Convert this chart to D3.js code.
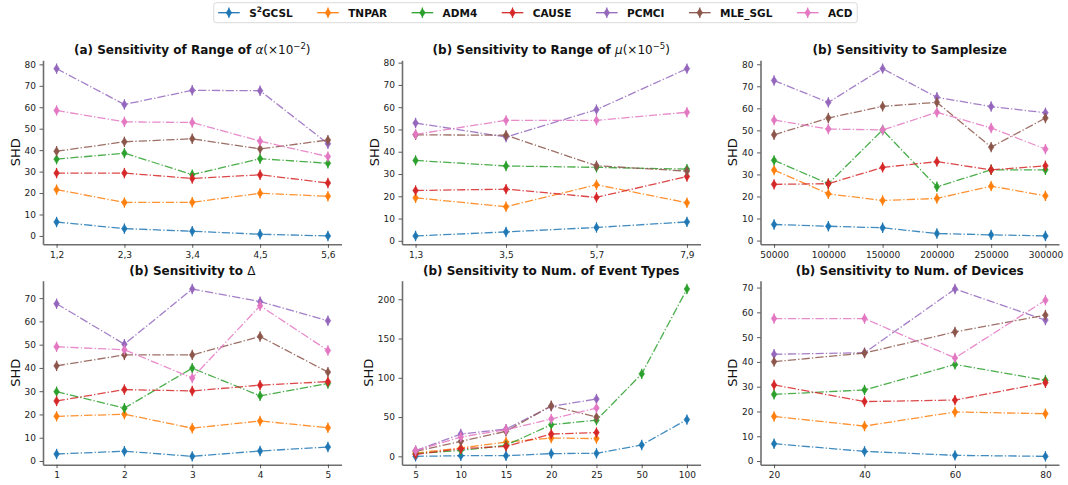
<!DOCTYPE html>
<html>
<head>
<meta charset="utf-8">
<script src="https://cdn.jsdelivr.net/npm/d3@7"></script>
<style>
body { margin: 0; background: #fff; }
svg { font-family: "DejaVu Sans", sans-serif; }
</style>
</head>
<body>
<svg width="1068" height="485"></svg>
<script>
const methods = ["S2GCSL", "TNPAR", "ADM4", "CAUSE", "PCMCI", "MLE_SGL", "ACD"];
const colors = ["#1f77b4", "#ff7f0e", "#2ca02c", "#d62728", "#9467bd", "#8c564b", "#e377c2"];

// (a) range of alpha
const alphaCats = ["1,2", "2,3", "3,4", "4,5", "5,6"];
const alphaTicks = [0, 10, 20, 30, 40, 50, 60, 70, 80];
const alphaS2GCSL = [6.5, 3.4, 2.2, 0.8, 0];
const alphaTNPAR = [21.6, 15.6, 15.7, 19.9, 18.5];
const alphaADM4 = [35.8, 38.6, 28.6, 36.0, 33.9];
const alphaCAUSE = [29.3, 29.3, 26.8, 28.5, 24.7];
const alphaPCMCI = [78.0, 61.3, 67.9, 67.7, 43.0];
const alphaMLE = [39.5, 43.9, 45.3, 40.6, 44.7];
const alphaACD = [58.5, 53.2, 52.9, 44.2, 37.0];

// (b) range of mu
const muCats = ["1,3", "3,5", "5,7", "7,9"];
const muTicks = [0, 10, 20, 30, 40, 50, 60, 70, 80];
const muS2GCSL = [2.2, 4.0, 6.0, 8.5];
const muTNPAR = [19.3, 15.3, 25.2, 17.1];
const muADM4 = [36.1, 33.6, 33.0, 32.2];
const muCAUSE = [22.6, 23.2, 19.5, 28.9];
const muPCMCI = [52.9, 46.6, 58.9, 77.3];
const muMLE = [47.6, 47.4, 33.7, 31.3];
const muACD = [47.8, 54.1, 54.1, 57.7];

// (b) sample size
const sizeCats = ["50000", "100000", "150000", "200000", "250000", "300000"];
const sizeTicks = [0, 10, 20, 30, 40, 50, 60, 70, 80];
const sizeS2GCSL = [7.3, 6.5, 5.8, 3.2, 2.6, 2.1];
const sizeTNPAR = [32.0, 21.2, 18.2, 19.1, 24.7, 20.3];
const sizeADM4 = [36.4, 25.8, 50.2, 24.4, 32.1, 32.1];
const sizeCAUSE = [25.5, 25.8, 33.2, 35.8, 32.1, 33.9];
const sizePCMCI = [72.6, 62.7, 78.0, 65.0, 60.8, 58.0];
const sizeMLE = [48.0, 55.6, 60.9, 62.7, 42.4, 55.6];
const sizeACD = [54.7, 50.6, 50.2, 58.2, 51.1, 41.5];

// (b) delta
const deltaCats = ["1", "2", "3", "4", "5"];
const deltaTicks = [0, 10, 20, 30, 40, 50, 60, 70];
const deltaS2GCSL = [3.0, 4.2, 2.0, 4.3, 6.0];
const deltaTNPAR = [19.2, 20.1, 14.1, 17.2, 14.3];
const deltaADM4 = [29.8, 22.7, 39.9, 28.0, 33.3];
const deltaCAUSE = [25.8, 30.7, 30.1, 32.6, 34.1];
const deltaPCMCI = [67.6, 50.2, 73.9, 68.5, 60.3];
const deltaMLE = [40.9, 45.6, 45.6, 53.5, 38.2];
const deltaACD = [49.1, 47.8, 35.7, 66.7, 47.5];

// (b) number of event types
const typeCats = ["5", "10", "15", "20", "25", "50", "100"];
const typeTicks = [0, 50, 100, 150, 200];
const typeS2GCSL = [0, 0.8, 0.8, 3.5, 3.8, 14.5, 46.8];
const typeTNPAR = [4.2, 10.6, 18.2, 23.3, 22.6, null, null];
const typeADM4 = [3.4, 7.6, 14.0, 40.3, 46.0, 105, 213];
const typeCAUSE = [2.5, 9.7, 12.7, 28.4, 30.3, null, null];
const typePCMCI = [7.2, 28.4, 34.7, 63.6, 73.0, null, null];
const typeMLE = [6.4, 19.0, 31.8, 64.4, 50.0, null, null];
const typeACD = [7.2, 24.6, 33.9, 47.5, 61.5, null, null];

// (b) number of devices
const devCats = ["20", "40", "60", "80"];
const devTicks = [0, 10, 20, 30, 40, 50, 60, 70];
const devS2GCSL = [7.0, 3.9, 2.3, 1.9];
const devTNPAR = [18.0, 14.1, 19.8, 19.1];
const devADM4 = [26.9, 28.7, 39.0, 32.6];
const devCAUSE = [30.7, 24.0, 24.6, 31.6];
const devPCMCI = [43.1, 43.7, 69.4, 56.9];
const devMLE = [40.1, 43.6, 52.1, 58.9];
const devACD = [57.5, 57.5, 41.6, 64.9];

const panels = [
  { title: [{t: "(a) Sensitivity of Range of ", b: true}, {t: "α", i: true}, {t: "(×10"}, {t: "−2", sup: true}, {t: ")"}],
    cats: alphaCats, ticks: alphaTicks,
    series: [alphaS2GCSL, alphaTNPAR, alphaADM4, alphaCAUSE, alphaPCMCI, alphaMLE, alphaACD] },
  { title: [{t: "(b) Sensitivity to Range of ", b: true}, {t: "μ", i: true}, {t: "(×10"}, {t: "−5", sup: true}, {t: ")"}],
    cats: muCats, ticks: muTicks,
    series: [muS2GCSL, muTNPAR, muADM4, muCAUSE, muPCMCI, muMLE, muACD] },
  { title: [{t: "(b) Sensitivity to Samplesize", b: true}],
    cats: sizeCats, ticks: sizeTicks,
    series: [sizeS2GCSL, sizeTNPAR, sizeADM4, sizeCAUSE, sizePCMCI, sizeMLE, sizeACD] },
  { title: [{t: "(b) Sensitivity to ", b: true}, {t: "Δ"}],
    cats: deltaCats, ticks: deltaTicks,
    series: [deltaS2GCSL, deltaTNPAR, deltaADM4, deltaCAUSE, deltaPCMCI, deltaMLE, deltaACD] },
  { title: [{t: "(b) Sensitivity to Num. of Event Types", b: true}],
    cats: typeCats, ticks: typeTicks,
    series: [typeS2GCSL, typeTNPAR, typeADM4, typeCAUSE, typePCMCI, typeMLE, typeACD] },
  { title: [{t: "(b) Sensitivity to Num. of Devices", b: true}],
    cats: devCats, ticks: devTicks,
    series: [devS2GCSL, devTNPAR, devADM4, devCAUSE, devPCMCI, devMLE, devACD] }
];

const svg = d3.select("svg");
const colLeft = [43, 402, 760.5];
const colW = 298.5;
const rowTop = [60.3, 280.7];
const rowH = 184;

const dash = "8.3,2.1,1.3,2.1";
const diamond = "M0,-4.2 L2.8,0 L0,4.2 L-2.8,0 Z";

function drawMarker(sel, color) {
    sel.append("line")
        .attr("y1", -5.2).attr("y2", 5.2)
        .attr("stroke", color).attr("stroke-width", 1.2);
    sel.append("path")
        .attr("d", diamond)
        .attr("fill", color)
        .attr("stroke", color)
        .attr("stroke-width", 0.6);
}

panels.forEach(function (p, k) {
    let left = colLeft[k % 3], top = rowTop[Math.floor(k / 3)];
    let right = left + colW, bottom = top + rowH;

    let x = d3.scalePoint().domain(p.cats).range([left, right]).padding(0.05 * (p.cats.length - 1));
    let vals = p.series.flat().filter(v => v != null);
    let lo = d3.min(vals), hi = d3.max(vals), pad = (hi - lo) * 0.05;
    let y = d3.scaleLinear().domain([lo - pad, hi + pad]).range([bottom, top]);

    let g = svg.append("g");

    let ax = g.append("g")
        .attr("transform", "translate(0," + bottom + ")")
        .call(d3.axisBottom(x).tickSize(3.5).tickPadding(3.5).tickSizeOuter(0));
    let ay = g.append("g")
        .attr("transform", "translate(" + left + ",0)")
        .call(d3.axisLeft(y).tickValues(p.ticks).tickSize(3.5).tickPadding(3.5).tickSizeOuter(0));

    [ax, ay].forEach(function (a) {
        a.select(".domain").attr("stroke", "#6e6e6e").attr("stroke-width", 1.6);
        a.selectAll(".tick line").attr("stroke", "#333").attr("stroke-width", 0.8);
        a.selectAll(".tick text").attr("fill", "#222").attr("font-size", "9px")
            .attr("font-family", "DejaVu Sans");
    });

    let maxW = 0;
    ay.selectAll(".tick text").each(function () { maxW = Math.max(maxW, this.getBBox().width); });

    g.append("text")
        .attr("transform", "translate(" + (left - 3.5 - 3.5 - maxW - 4.5) + "," + ((top + bottom) / 2) + ") rotate(-90)")
        .attr("text-anchor", "middle")
        .attr("font-size", "13px")
        .attr("fill", "#111")
        .text("SHD");

    let title = g.append("text")
        .attr("x", (left + right) / 2)
        .attr("y", top - 6)
        .attr("text-anchor", "middle")
        .attr("font-size", "12px")
        .attr("fill", "#111");
    p.title.forEach(function (s) {
        let ts = title.append("tspan").text(s.t)
            .attr("font-weight", s.b ? "bold" : "normal")
            .attr("font-style", s.i ? "italic" : "normal");
        if (s.sup) ts.attr("font-size", "8.5px").attr("dy", -5);
        else if (s.t === ")" ) ts.attr("dy", 5);
    });

    let line = d3.line()
        .defined(d => d != null)
        .x((d, i) => x(p.cats[i]))
        .y(d => y(d));

    p.series.forEach(function (s, m) {
        g.append("path")
            .datum(s)
            .attr("d", line)
            .attr("fill", "none")
            .attr("stroke", colors[m])
            .attr("stroke-width", 1.3)
            .attr("stroke-dasharray", dash)
            .attr("opacity", 0.85);
        s.forEach(function (v, i) {
            if (v == null) return;
            let mk = g.append("g").attr("transform", "translate(" + x(p.cats[i]) + "," + y(v) + ")");
            drawMarker(mk, colors[m]);
        });
    });
});

// legend
let leg = svg.append("g");
let box = leg.append("rect")
    .attr("fill", "#fff")
    .attr("stroke", "#d0d0d0")
    .attr("stroke-width", 0.8)
    .attr("rx", 2.5);
let cx = 0;
methods.forEach(function (name, m) {
    let it = leg.append("g");
    it.append("line")
        .attr("x1", 0).attr("x2", 21.6)
        .attr("stroke", colors[m]).attr("stroke-width", 1.3);
    drawMarker(it.append("g").attr("transform", "translate(10.8,0)"), colors[m]);
    let t = it.append("text")
        .attr("x", 31)
        .attr("y", 4)
        .attr("font-size", "10.5px")
        .attr("font-weight", "bold")
        .attr("fill", "#111");
    if (name === "S2GCSL") {
        t.append("tspan").text("S");
        t.append("tspan").text("2").attr("font-size", "7.5px").attr("dy", -4.5);
        t.append("tspan").text("GCSL").attr("dy", 4.5);
    } else {
        t.text(name);
    }
    let w = 31 + t.node().getComputedTextLength();
    it.attr("transform", "translate(" + cx + ",0)");
    cx += w + 24.5;
});
let total = cx - 24.5;
let lx = 535.3 - total / 2, ly = 12.7;
leg.attr("transform", "translate(" + lx + "," + ly + ")");
box.attr("x", -4.4).attr("y", -10).attr("width", total + 9.2).attr("height", 20);
</script>
</body>
</html>
